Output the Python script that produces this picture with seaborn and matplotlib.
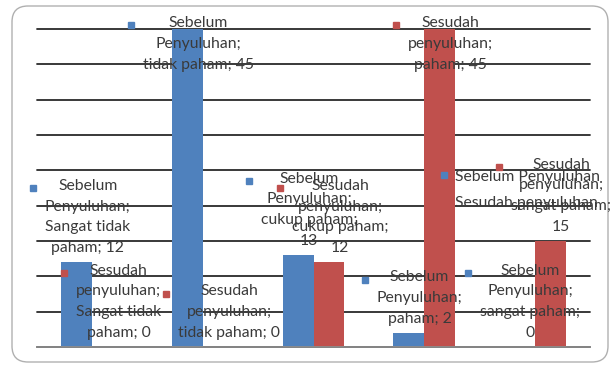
import textwrap

import matplotlib
matplotlib.use("Agg")
import matplotlib.pyplot as plt
from matplotlib.lines import Line2D
from matplotlib.patches import FancyBboxPatch
import pandas as pd
import seaborn as sns

# Survey answers before and after the counselling session
categories = ["Sangat tidak paham", "tidak paham", "cukup paham", "paham", "sangat paham"]
series = ["Sebelum Penyuluhan", "Sesudah penyuluhan"]
sebelum = [12, 45, 13, 2, 0]
sesudah = [0, 0, 12, 45, 15]

# characters per line when the data labels are wrapped
wrap_width = [14, 16, 14, 14, 14]

colors = ["#4F81BD", "#C0504D"]
text_color = "#3A3A3A"
FONT = "Lato"
FS = 11.3

df = pd.DataFrame({
    "kategori": categories * 2,
    "jumlah": sebelum + sesudah,
    "seri": [series[0]] * len(categories) + [series[1]] * len(categories),
})

sns.set_theme(style="white")
plt.rcParams["font.family"] = [FONT, "DejaVu Sans"]

DPI = 100
fig = plt.figure(figsize=(6.10, 3.65), dpi=DPI)
fig.patch.set_facecolor("white")

# rounded chart-area frame
frame = FancyBboxPatch((0.12, 0.03), 5.96, 3.56,
                       boxstyle="round,pad=0,rounding_size=0.16",
                       transform=fig.dpi_scale_trans, facecolor="white",
                       edgecolor="#B0B0B0", linewidth=1.0, zorder=0)
fig.add_artist(frame)

ax = fig.add_axes([37 / 610, 1 - 347 / 365, (590 - 37) / 610, (347 - 29) / 365])
ax.patch.set_alpha(0)

sns.barplot(data=df, x="kategori", y="jumlah", hue="seri", palette=colors,
            width=0.56, gap=0, saturation=1, linewidth=0, legend=False, ax=ax)

ax.set_xlim(-0.5, len(categories) - 0.5)
ax.set_ylim(0, 45)
ax.set_yticks(range(0, 46, 5))
ax.yaxis.grid(True, color="#2A2A2A", linewidth=1.3)
for gl in ax.get_ygridlines():
    gl.set_clip_on(False)
ax.set_axisbelow(True)
ax.tick_params(length=0, labelbottom=False, labelleft=False)
ax.set_xlabel("")
ax.set_ylabel("")
for side in ["top", "left", "right"]:
    ax.spines[side].set_visible(False)
ax.spines["bottom"].set_color("#8C8C8C")
ax.spines["bottom"].set_linewidth(1.3)

# data labels: "series; category; value", wrapped like the chart's text boxes
labels = []
ymax = ax.get_ylim()[1]
for k, cont in enumerate(ax.containers):
    vals = sebelum if k == 0 else sesudah
    for i, bar in enumerate(cont):
        v = vals[i]
        xc = bar.get_x() + bar.get_width() / 2
        text = f"{series[k]}; {categories[i]}; {v}"
        lines = textwrap.wrap(text, width=wrap_width[i])
        if v >= ymax:
            va, dy = "top", 13
        else:
            va, dy = "bottom", 7
        t = ax.annotate("\n".join(lines), xy=(xc, v), xytext=(11, dy),
                        textcoords="offset pixels", ha="center", va=va,
                        multialignment="center", fontsize=FS,
                        color=text_color, linespacing=1.62,
                        annotation_clip=False, zorder=5)
        labels.append((t, len(lines), colors[k]))

# legend keys drawn in front of each label's first line
fig.canvas.draw()
renderer = fig.canvas.get_renderer()
inv = fig.transFigure.inverted()
for t, n, c in labels:
    bb = t.get_window_extent(renderer)
    line_h = bb.height / n
    kx, ky = inv.transform((bb.x0 - 12, bb.y1 - line_h / 2))
    fig.add_artist(Line2D([kx], [ky], marker="s", markersize=5, color=c,
                          linestyle="none", transform=fig.transFigure, zorder=6))

handles = [Line2D([], [], marker="s", markersize=5, color=c, linestyle="none")
           for c in colors]
fig.legend(handles, series, loc="upper left", bbox_to_anchor=(430 / 610, 1 - 162 / 365),
           frameon=False, fontsize=FS, handlelength=0.8, handletextpad=0.3,
           labelspacing=0.8, borderpad=0, labelcolor=text_color)

fig.savefig("out.png", dpi=DPI)
